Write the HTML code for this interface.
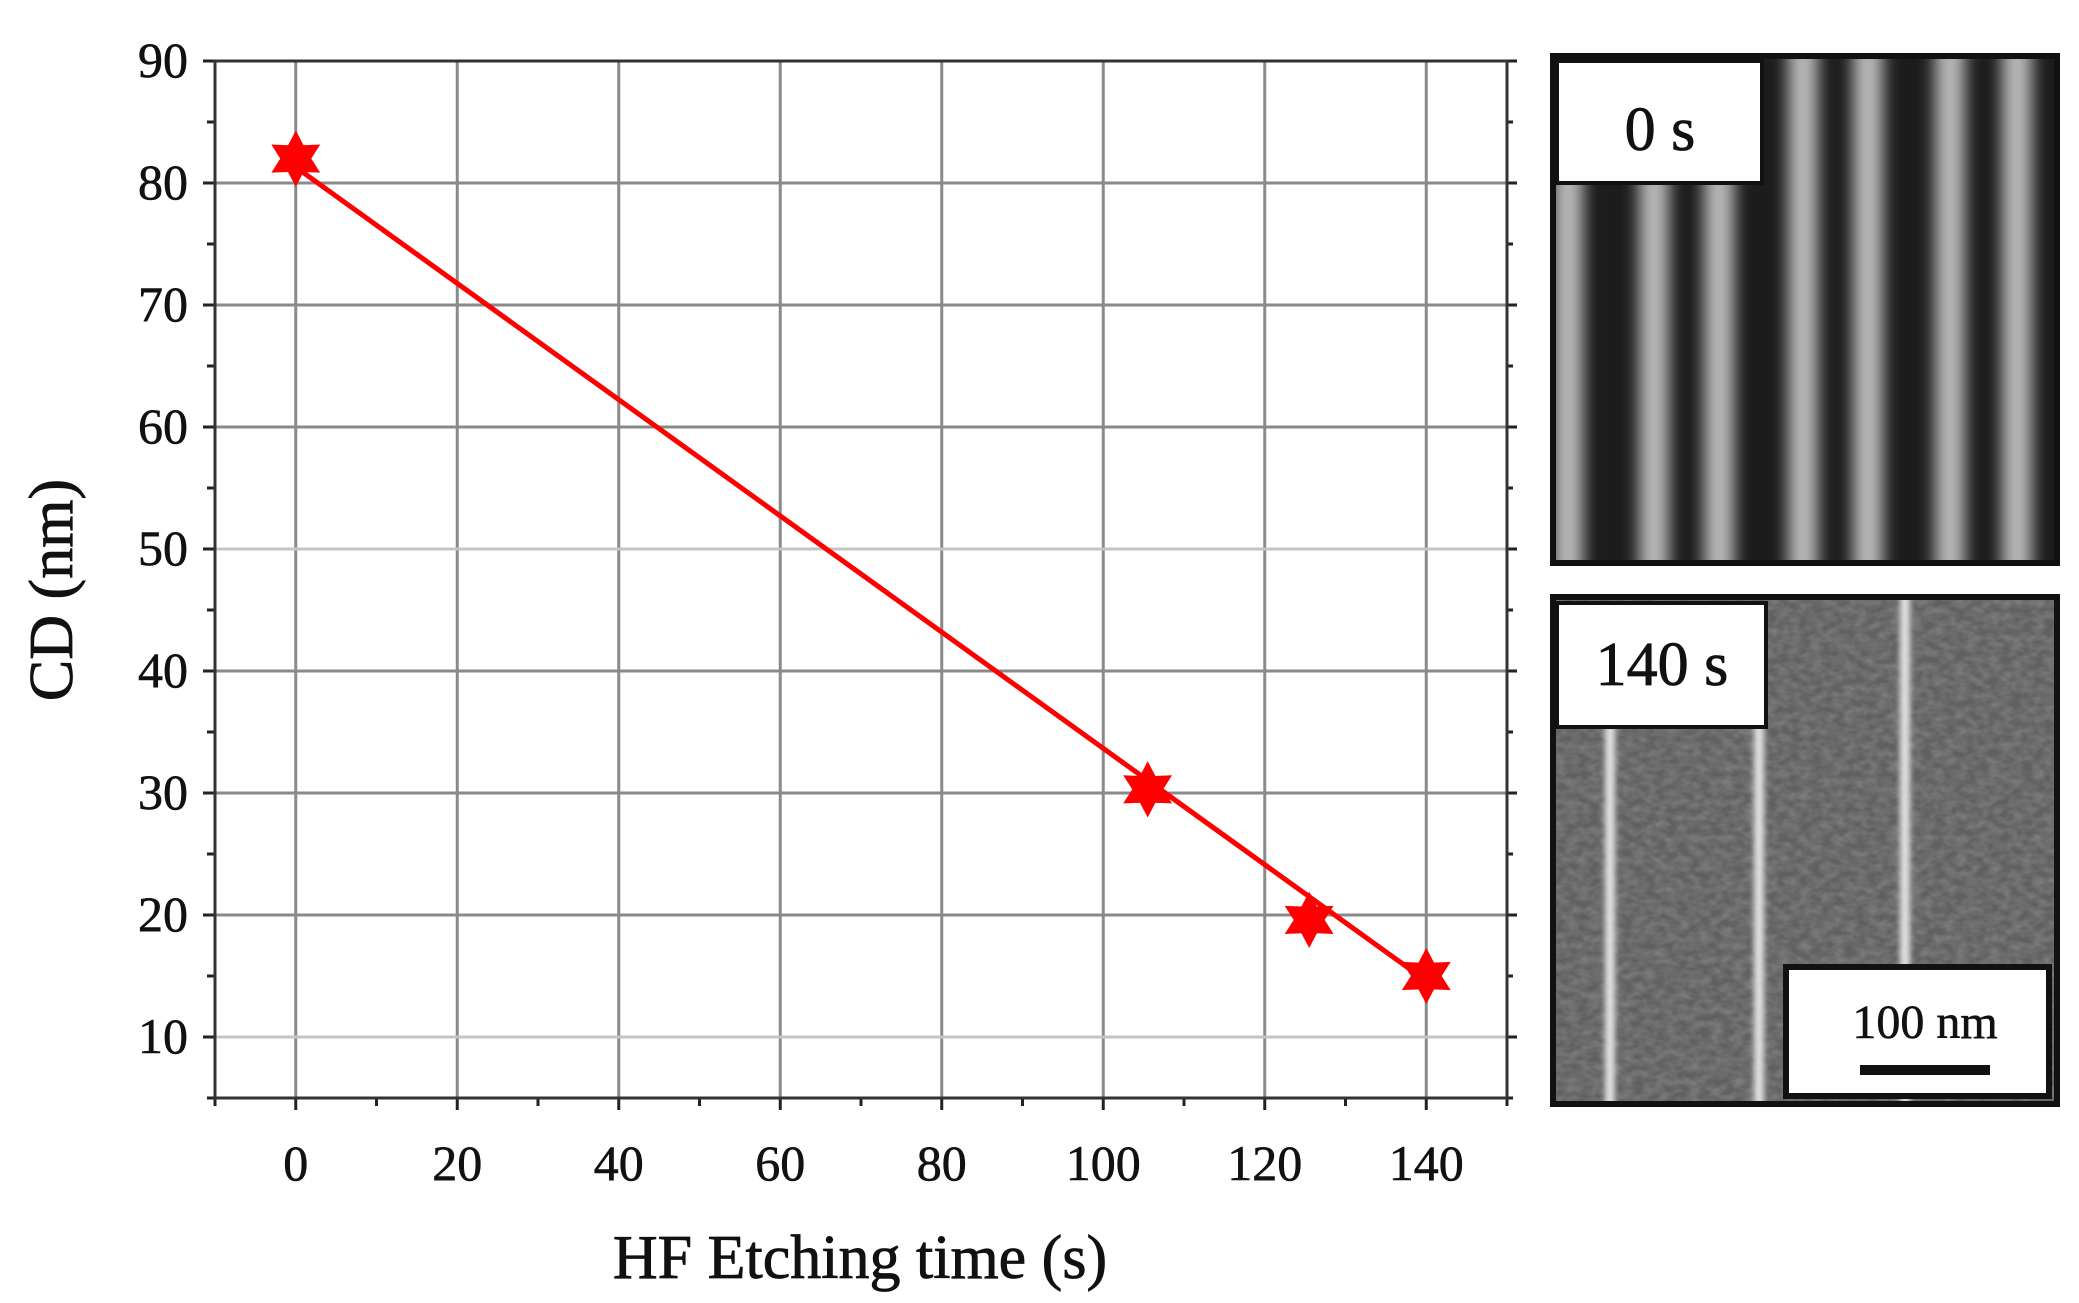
<!DOCTYPE html>
<html><head><meta charset="utf-8"><style>
html,body{margin:0;padding:0;background:#fff;}
svg{display:block;font-family:"Liberation Serif",serif;}
</style></head><body>
<svg id="chart" width="2079" height="1303" viewBox="0 0 2079 1303" xmlns="http://www.w3.org/2000/svg">
<defs>
<filter id="noise" x="0" y="0" width="100%" height="100%">
<feTurbulence type="fractalNoise" baseFrequency="0.09 0.14" numOctaves="2" seed="3"/>
<feColorMatrix type="matrix" values="0 0 0 0 0.2  0 0 0 0 0.2  0 0 0 0 0.2  0 0 0 -1.8 1.3"/>
</filter>
<filter id="blur" x="-20%" y="0" width="140%" height="100%"><feGaussianBlur stdDeviation="8 0"/></filter>
<filter id="blur2" x="-50%" y="0" width="200%" height="100%"><feGaussianBlur stdDeviation="3 0"/></filter>
<clipPath id="clip0"><rect x="1553" y="56" width="504" height="507"/></clipPath>
<clipPath id="clip1"><rect x="1553" y="597" width="504" height="507"/></clipPath>
</defs>
<rect width="2079" height="1303" fill="#fff"/>
<g id="grid"></g>
<g id="axes"></g>
<g id="series"></g>
<text x="860" y="1278" font-size="62" text-anchor="middle" fill="#111" stroke="#111" stroke-width="0.8">HF Etching time (s)</text>
<text transform="translate(72,590) rotate(-90)" font-size="62" text-anchor="middle" fill="#111" stroke="#111" stroke-width="0.8">CD (nm)</text>

<g>
<rect x="1553" y="56" width="504" height="507" fill="#1c1c1c"/>
<g clip-path="url(#clip0)"><g id="stripes0" filter="url(#blur)"></g></g>
<rect x="1553" y="56" width="504" height="507" fill="none" stroke="#111" stroke-width="6"/>
<rect x="1557" y="61" width="205" height="122" fill="#fff" stroke="#111" stroke-width="4"/>
<text x="1660" y="150" font-size="62" text-anchor="middle" fill="#111" stroke="#111" stroke-width="0.8">0 s</text>
</g>
<g>
<rect x="1553" y="597" width="504" height="507" fill="#606060"/>
<rect x="1553" y="597" width="504" height="507" filter="url(#noise)"/>
<g clip-path="url(#clip1)"><g id="stripes140" filter="url(#blur2)"></g></g>
<rect x="1553" y="597" width="504" height="507" fill="none" stroke="#111" stroke-width="6"/>
<rect x="1557" y="603" width="209" height="124" fill="#fff" stroke="#111" stroke-width="4"/>
<text x="1662" y="685" font-size="62" text-anchor="middle" fill="#111" stroke="#111" stroke-width="0.8">140 s</text>
<rect x="1786" y="967" width="263" height="129" fill="#fff" stroke="#111" stroke-width="6"/>
<text x="1925" y="1038" font-size="48" text-anchor="middle" fill="#111" stroke="#111" stroke-width="0.6">100 nm</text>
<rect x="1860" y="1065" width="130" height="10" fill="#111"/>
</g>
</svg>
<script>
const xTicks=[0,20,40,60,80,100,120,140];
const yTicks=[10,20,30,40,50,60,70,80,90];
const timeS=[0,105.5,125.5,140];
const cdNm=[82,30.3,19.6,15];
const errNm=[2,0,0,0];
const fitX=[0,140];
const fitY=[81.3,14.6];
const X0=215,X1=1507,Y0=1098,Y1=61;
const xmin=-10,xmax=150,ymin=5,ymax=90;
const sx=v=>X0+(v-xmin)/(xmax-xmin)*(X1-X0);
const sy=v=>Y0-(v-ymin)/(ymax-ymin)*(Y0-Y1);
const NS="http://www.w3.org/2000/svg";
function mk(t,a,p){const e=document.createElementNS(NS,t);for(const k in a)e.setAttribute(k,a[k]);p.appendChild(e);return e;}
const grid=document.getElementById('grid'),axes=document.getElementById('axes'),ser=document.getElementById('series');
xTicks.forEach(v=>{const l=mk('line',{x1:sx(v),x2:sx(v),y1:Y1,y2:Y0,stroke:'#8a8a8a','stroke-width':3},grid);

const t=mk('text',{x:sx(v),y:1180,'font-size':50,'text-anchor':'middle',fill:'#111',stroke:'#111','stroke-width':0.6},axes);t.textContent=v;
});
yTicks.forEach(v=>{const light=(v===50||v===10);const l=mk('line',{x1:X0,x2:X1,y1:sy(v),y2:sy(v),stroke:light?'#c4c4c4':'#8a8a8a','stroke-width':3},grid);

const t=mk('text',{x:188,y:sy(v)+16,'font-size':50,'text-anchor':'end',fill:'#111',stroke:'#111','stroke-width':0.6},axes);t.textContent=v;
});
for(let v=-10;v<=150;v+=10){mk('line',{x1:sx(v),x2:sx(v),y1:Y0,y2:Y0+(v%20===0?12:8),stroke:'#222','stroke-width':3},axes);}
for(let v=5;v<=90;v+=5){mk('line',{x1:X0-(v%10===0?12:8),x2:X0,y1:sy(v),y2:sy(v),stroke:'#222','stroke-width':3},axes);
mk('line',{x1:X1,x2:X1+(v%10===0?10:6),y1:sy(v),y2:sy(v),stroke:'#222','stroke-width':3},axes);}
const fr=mk('rect',{x:X0,y:Y1,width:X1-X0,height:Y0-Y1,fill:'none',stroke:'#333','stroke-width':3},axes);

const fl=mk('line',{x1:sx(fitX[0]),y1:sy(fitY[0]),x2:sx(fitX[1]),y2:sy(fitY[1]),stroke:'#f00','stroke-width':5},ser);

function star(cx,cy,r){const p=[];for(let i=0;i<12;i++){const a=-Math.PI/2+i*Math.PI/6;const rr=i%2?r*0.55:r;p.push((cx+rr*Math.cos(a)).toFixed(1)+','+(cy+rr*Math.sin(a)).toFixed(1));}return p.join(' ');}
timeS.forEach((t,i)=>{const cx=sx(t),cy=sy(cdNm[i]);
if(errNm[i]>0){const e=mk('line',{x1:cx,x2:cx,y1:sy(cdNm[i]+errNm[i]),y2:sy(cdNm[i]-errNm[i]),stroke:'#f00','stroke-width':4},ser);
}
const s=mk('polygon',{points:star(cx,cy,26),fill:'#f00',stroke:'#f00','stroke-width':2},ser);
});
const s0=document.getElementById('stripes0');
[[1568,183],[1654,183],[1719,183],[1803,56],[1868,56],[1950,56],[2017,56]].forEach(([x,top])=>{
const r=mk('rect',{x:x-15,y:top,width:30,height:563-top,fill:'#b8b8b8'},s0);
});
const s1=document.getElementById('stripes140');
[[1610,727],[1759,727],[1905,597]].forEach(([x,top])=>{
const r=mk('rect',{x:x-5,y:top,width:10,height:1104-top,fill:'#e0e0e0'},s1);
});
</script>
</body></html>
